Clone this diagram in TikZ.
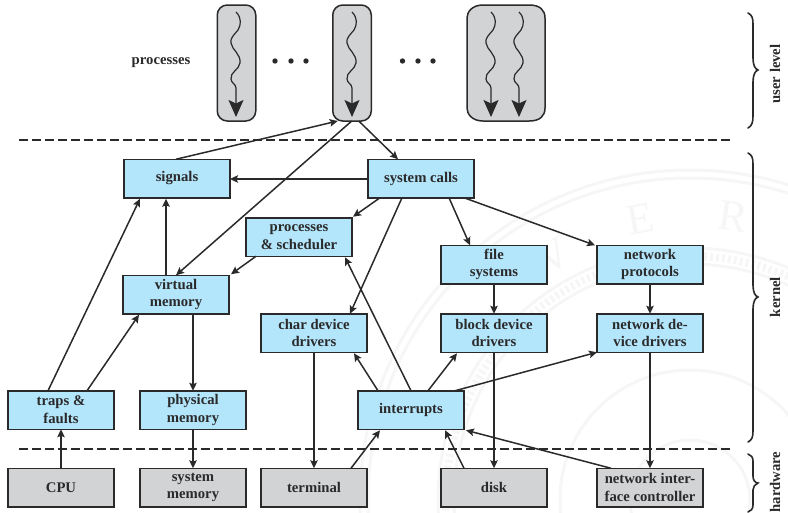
\documentclass[tikz,border=0pt]{standalone}
\usepackage{fontspec}
\setmainfont{Liberation Serif}
\usetikzlibrary{arrows.meta,calc}
\definecolor{ink}{HTML}{2B2A2B}
\definecolor{kblue}{HTML}{B3E5FB}
\definecolor{hgray}{HTML}{D1D3D4}
\definecolor{seal}{HTML}{F6F6F6}
\tikzset{
  box/.style={draw=ink,line width=1.5pt,minimum width=106pt,minimum height=38.5pt,inner sep=0pt,outer sep=0pt,align=center,text=ink,
    font=\fontsize{14.7}{17.8}\selectfont\bfseries},
  kbox/.style={box,fill=kblue},
  hbox/.style={box,fill=hgray},
  pill/.style={draw=ink,line width=1.5pt,fill=hgray,rounded corners=10pt,minimum width=38.5pt,minimum height=116pt,inner sep=0pt,outer sep=0pt},
  conn/.style={draw=ink,line width=1.5pt,-{Stealth[length=8pt,width=7.5pt,inset=1.5pt]}},
  thread/.style={draw=ink,line width=1.2pt,-{Stealth[length=17pt,width=15pt,inset=3.5pt]}},
  sep/.style={draw=ink,line width=1.5pt,dash pattern=on 8.5pt off 4.5pt},
  brace/.style={draw=ink,line width=1.6pt,line cap=round},
  lab/.style={text=ink,inner sep=0pt,font=\fontsize{14.7}{17.8}\selectfont\bfseries},
  sidelab/.style={lab,rotate=90},
  dot/.style={circle,fill=ink,minimum size=5.4pt,inner sep=0pt},
  sealline/.style={draw=seal,line width=3pt},
  sealtext/.style={text=seal,inner sep=0pt,font=\fontsize{44}{44}\selectfont}
}
\newcommand{\threadat}[2]{% x offset, bottom tip
  \draw[thread] (#1+0,12) .. controls (#1+6,18) and (#1+5,25) .. (#1+2,30)
    .. controls (#1-2,35) and (#1-6,38) .. (#1-5,43)
    .. controls (#1-4,50) and (#1+5,54) .. (#1+4,63)
    .. controls (#1+3,70) and (#1-6,72) .. (#1-5,79)
    .. controls (#1-5,83) and (#1,84) .. (#1,88) -- (#1,#2);
}
\begin{document}
\begin{tikzpicture}[x=1pt,y=-1pt]
\useasboundingbox (0,0) rectangle (788,512);
% faint seal in the background
\begin{scope}
\clip (0,0) rectangle (788,512);
\coordinate (sc) at (690,500);
\draw[sealline] (sc) circle [radius=330];
\draw[sealline] (sc) circle [radius=322];
\draw[sealline] (sc) circle [radius=252];
\draw[sealline,dash pattern=on 3pt off 3pt,line width=8pt] (sc) circle [radius=244];
\draw[sealline] (sc) circle [radius=236];
\draw[sealline] (sc) circle [radius=130];
\draw[sealline] (sc) circle [radius=60];
\node[sealtext,rotate=30] (sv) at (553,256) {V};
\node[sealtext,rotate=10] (se) at (640,219) {E};
\node[sealtext,rotate=-9] (sr) at (733,217) {R};
\end{scope}
% processes
\node[pill] (p1) at (236.5,63) {};
\node[pill] (p2) at (352,63) {};
\draw[draw=ink,line width=1.5pt,fill=hgray] (483,5) -- (529,5) .. controls (540,5) and (545,10) .. (545,18)
  -- (545,108) .. controls (545,116) and (540,121) .. (529,121) -- (483,121)
  .. controls (472,121) and (467,114) .. (467,108) -- (467,18) .. controls (467,12) and (472,5) .. (483,5) -- cycle;
\threadat{236}{117}
\threadat{352}{117}
\threadat{491}{117}
\threadat{519}{117}
\node[lab] (plabel) at (161,63) {processes};
\foreach \x/\n in {275/a,291/b,306/c,402.5/d,418/e,433/f}{\node[dot] (dot\n) at (\x,61) {};}
% separators
\coordinate (s1a) at (19,140); \coordinate (s1b) at (731,140);
\coordinate (s2a) at (19,449); \coordinate (s2b) at (731,449);
\draw[sep] (s1a) -- (s1b);
\draw[sep] (s2a) -- (s2b);
% kernel
\node[kbox] (signals) at (177,178.5) {signals};
\node[kbox] (syscalls) at (421,178.5) {system calls};
\node[kbox] (sched) at (299,237) {processes\\\& scheduler};
\node[kbox] (vm) at (176,294.5) {virtual\\memory};
\node[kbox] (char) at (314,333) {char device\\drivers};
\node[kbox] (fs) at (494,264.5) {file\\systems};
\node[kbox] (proto) at (650,264.5) {network\\protocols};
\node[kbox] (block) at (494,333) {block device\\drivers};
\node[kbox] (netdev) at (650,333) {network de-\\vice drivers};
\node[kbox] (traps) at (61,410) {traps \&\\faults};
\node[kbox] (phys) at (193,410) {physical\\memory};
\node[kbox] (irq) at (411,410) {interrupts};
% hardware
\node[hbox] (cpu) at (61,487.5) {CPU};
\node[hbox] (sysmem) at (193,487.5) {system\\memory};
\node[hbox] (term) at (314,487.5) {terminal};
\node[hbox] (disk) at (494,487.5) {disk};
\node[hbox] (nic) at (650,487.5) {network inter-\\face controller};
% connectors
\draw[conn] ($(signals.north west)+(52,0)$) -- ($(p2.south west)+(5,0)$);
\draw[conn] ($(p2.south west)+(19,0)$) -- ($(vm.north west)+(53,0)$);
\draw[conn] ($(p2.south west)+(26,0)$) -- ($(syscalls.north west)+(30,0)$);
\draw[conn] ($(syscalls.west)+(0,0.5)$) -- ($(signals.east)+(0,0.5)$);
\draw[conn] ($(vm.north west)+(43,0)$) -- ($(signals.south west)+(42,1)$);
\draw[conn] ($(traps.north west)+(40,0)$) -- ($(signals.south west)+(16,1)$);
\draw[conn] ($(traps.north west)+(79,0)$) -- ($(vm.south west)+(16,1)$);
\draw[conn] ($(vm.south west)+(70,0)$) -- (phys.north);
\draw[conn] (phys.south) -- ($(sysmem.north west)+(53,0)$);
\draw[conn] (cpu.north) -- (traps.south);
\draw[conn] ($(term.north west)+(90,0)$) -- ($(irq.south west)+(22,1)$);
\draw[conn] (char.south) -- (term.north);
\draw[conn] ($(irq.north west)+(53,0)$) -- ($(sched.south west)+(99,1)$);
\draw[conn] ($(irq.north west)+(20,0)$) -- ($(char.south west)+(93,1)$);
\draw[conn] ($(irq.north west)+(70,0)$) -- ($(block.south west)+(16,1)$);
\draw[conn] ($(irq.north west)+(97,0)$) -- (netdev.south west);
\draw[conn] ($(disk.north west)+(23,0)$) -- ($(irq.south west)+(87,1)$);
\draw[conn] ($(nic.north west)+(14,0)$) -- ($(irq.south east)+(2,1)$);
\draw[conn] (block.south) -- (disk.north);
\draw[conn] (netdev.south) -- (nic.north);
\draw[conn] (fs.south) -- (block.north);
\draw[conn] (proto.south) -- (netdev.north);
\draw[conn] ($(syscalls.south west)+(34,0)$) -- ($(char.north west)+(89,0)$);
\draw[conn] ($(syscalls.south west)+(12,0)$) -- ($(sched.north east)+(1,-1)$);
\draw[conn] ($(syscalls.south west)+(81,0)$) -- ($(fs.north west)+(29,0)$);
\draw[conn] ($(syscalls.south west)+(96,0)$) -- ($(proto.north west)+(-2,0)$);
\draw[conn] ($(sched.south west)+(10,0)$) -- ($(vm.north east)+(2,-1)$);
% braces
\draw[brace] (748,13) .. controls (752,15) and (753,18) .. (753,24) -- (753,58) .. controls (753,65) and (755,69) .. (758,70)
  .. controls (755,71) and (753,75) .. (753,82) -- (753,116) .. controls (753,122) and (752,126) .. (748,128);
\draw[brace] (748,153) .. controls (752,155) and (753,158) .. (753,164) -- (753,285) .. controls (753,292) and (755,296) .. (758,297)
  .. controls (755,298) and (753,302) .. (753,309) -- (753,431) .. controls (753,437) and (752,440) .. (748,442);
\draw[brace] (748,454) .. controls (751,455) and (753,457) .. (753,461) -- (753,476) .. controls (753,480) and (755,483) .. (758,483)
  .. controls (755,484) and (753,487) .. (753,490) -- (753,505) .. controls (753,509) and (751,511) .. (748,512);
\node[sidelab] (ulevel) at (775,74) {user level};
\node[sidelab] (kern) at (775,297) {kernel};
\node[sidelab] (hw) at (775,482) {hardware};
\end{tikzpicture}
\end{document}
